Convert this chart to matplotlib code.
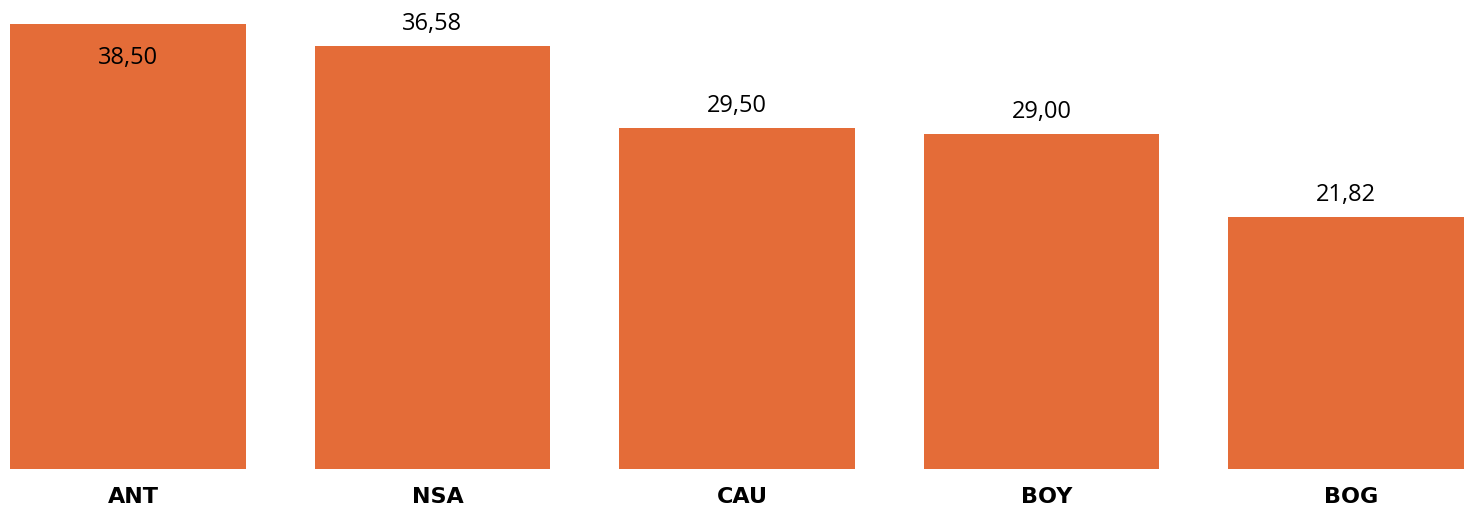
import matplotlib
matplotlib.use('Agg')
import matplotlib.pyplot as plt

categories = ['ANT', 'NSA', 'CAU', 'BOY', 'BOG']
values = [38.50, 36.58, 29.50, 29.00, 21.82]
labels = ['38,50', '36,58', '29,50', '29,00', '21,82']

color = '#E46C38'

fig = plt.figure(figsize=(14.66, 5.06), dpi=100)
ax = fig.add_axes([10/1466, 36/506, 1454/1466, 445/506])

width = 0.775
x = range(len(categories))
ax.bar(x, values, width=width, color=color)

ax.set_xlim(-width/2, len(categories) - 1 + width/2)
ax.set_ylim(0, max(values))

for i, (v, lab) in enumerate(zip(values, labels)):
    if v >= max(values) - 1:
        ax.annotate(lab, (i, v), xytext=(0, -15), textcoords='offset points',
                    ha='center', va='top', fontsize=17, family='Open Sans')
    else:
        ax.annotate(lab, (i, v), xytext=(0, 8), textcoords='offset points',
                    ha='center', va='bottom', fontsize=17, family='Open Sans')

# category names, drawn as text so they can sit a bit right of centre
for i, c in enumerate(categories):
    ax.annotate(c, (i, 0), xytext=(4, -12), textcoords='offset points',
                ha='center', va='top', fontsize=16, fontweight='heavy',
                family='DejaVu Sans', annotation_clip=False)

ax.set_xticks([])
ax.set_yticks([])
for s in ax.spines.values():
    s.set_visible(False)

fig.savefig('out.png', dpi=100)
